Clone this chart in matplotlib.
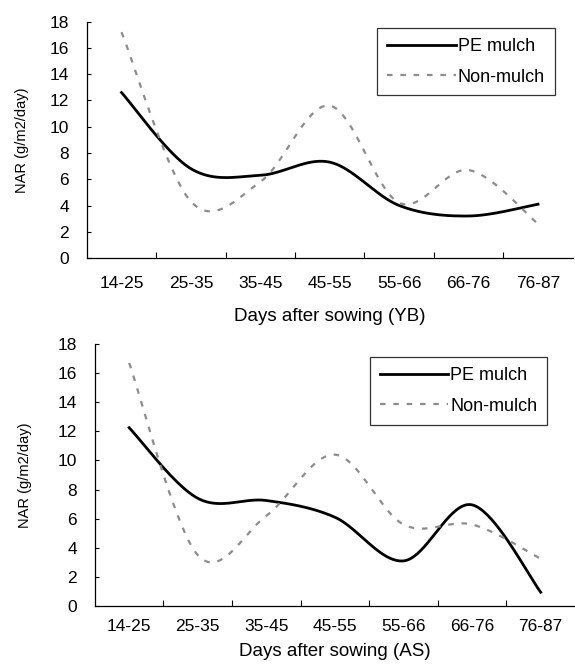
"""
Courbes NAR (PE mulch / Non-mulch) pour deux saisons, style Excel lissé.
"""

import numpy as np
import matplotlib
matplotlib.use("Agg")
import matplotlib.pyplot as plt

plt.rcParams['font.family'] = ['Liberation Sans', 'DejaVu Sans']

categories = ["14-25", "25-35", "35-45", "45-55", "55-66", "66-76", "76-87"]

# saison YB
pe_yb = [12.6, 6.8, 6.3, 7.3, 4.0, 3.2, 4.1]
non_yb = [17.2, 4.3, 5.8, 11.6, 4.2, 6.7, 2.6]

# saison AS
pe_as = [12.25, 7.4, 7.25, 6.1, 3.1, 6.95, 0.95]
non_as = [16.7, 3.5, 6.2, 10.4, 5.6, 5.6, 3.25]

y_ticks = list(range(0, 19, 2))


def smooth_curve(ys, n=40):
    """Courbe de Bézier façon Excel (lissage) passant par les points."""
    xs = np.arange(len(ys), dtype=float)
    pts = np.column_stack([xs, np.asarray(ys, dtype=float)])
    out = []
    for i in range(len(pts) - 1):
        p0 = pts[i - 1] if i > 0 else pts[i]
        p1 = pts[i]
        p2 = pts[i + 1]
        p3 = pts[i + 2] if i + 2 < len(pts) else pts[i + 1]
        c1 = p1 + (p2 - p0) / 6.0
        c2 = p2 - (p3 - p1) / 6.0
        t = np.linspace(0, 1, n)[:, None]
        seg = ((1 - t) ** 3) * p1 + 3 * ((1 - t) ** 2) * t * c1 \
            + 3 * (1 - t) * t ** 2 * c2 + t ** 3 * p2
        out.append(seg if i == 0 else seg[1:])
    seg = np.vstack(out)
    return seg[:, 0], seg[:, 1]


def draw_panel(ax, pe, non, xlabel, leg_anchor, xpad, xlabelpad, ylab_x):
    x, y = smooth_curve(pe)
    ax.plot(x, y, color='black', lw=2.0, label='PE mulch')
    x, y = smooth_curve(non)
    ax.plot(x, y, color='#8c8c8c', lw=1.6, linestyle=(0, (2.5, 3.5)),
            label='Non-mulch')

    ax.set_xlim(-0.5, len(categories) - 0.5)
    ax.set_ylim(0, 18)
    ax.set_yticks(y_ticks)
    ax.set_xticks(range(len(categories)))
    ax.set_xticklabels(categories, fontsize=12.5)
    ax.set_xticks(np.arange(0.5, len(categories) - 1, 1.0), minor=True)
    ax.tick_params(axis='x', which='major', length=0, pad=xpad)
    ax.tick_params(axis='x', which='minor', direction='in', length=4,
                   width=0.8)
    ax.tick_params(axis='y', direction='in', length=3, width=0.8,
                   labelsize=12.5, pad=13)
    for side in ('top', 'right'):
        ax.spines[side].set_visible(False)
    for side in ('left', 'bottom'):
        ax.spines[side].set_linewidth(0.9)

    ax.set_xlabel(xlabel, fontsize=13.5, labelpad=xlabelpad)
    ax.set_ylabel("NAR (g/m2/day)", fontsize=10.5)
    ax.yaxis.set_label_coords(ylab_x, 0.5)
    leg = ax.legend(loc='upper right', bbox_to_anchor=leg_anchor,
                    borderaxespad=0, fontsize=13, frameon=True,
                    fancybox=False, handlelength=3.8, handletextpad=0.1,
                    borderpad=0.55, labelspacing=0.75)
    leg.get_frame().set_edgecolor('black')
    leg.get_frame().set_linewidth(0.9)


fig = plt.figure(figsize=(5.75, 6.64), dpi=100)
ax1 = fig.add_axes([0.151, 0.6114, 0.845, 0.356])
ax2 = fig.add_axes([0.165, 0.0873, 0.835, 0.3946])

draw_panel(ax1, pe_yb, non_yb, "Days after sowing (YB)", (0.963, 0.973),
           13, 12, -0.118)
draw_panel(ax2, pe_as, non_as, "Days after sowing (AS)", (0.942, 0.950),
           9, 7, -0.13)

fig.savefig("out.png", dpi=100)
plt.close(fig)
